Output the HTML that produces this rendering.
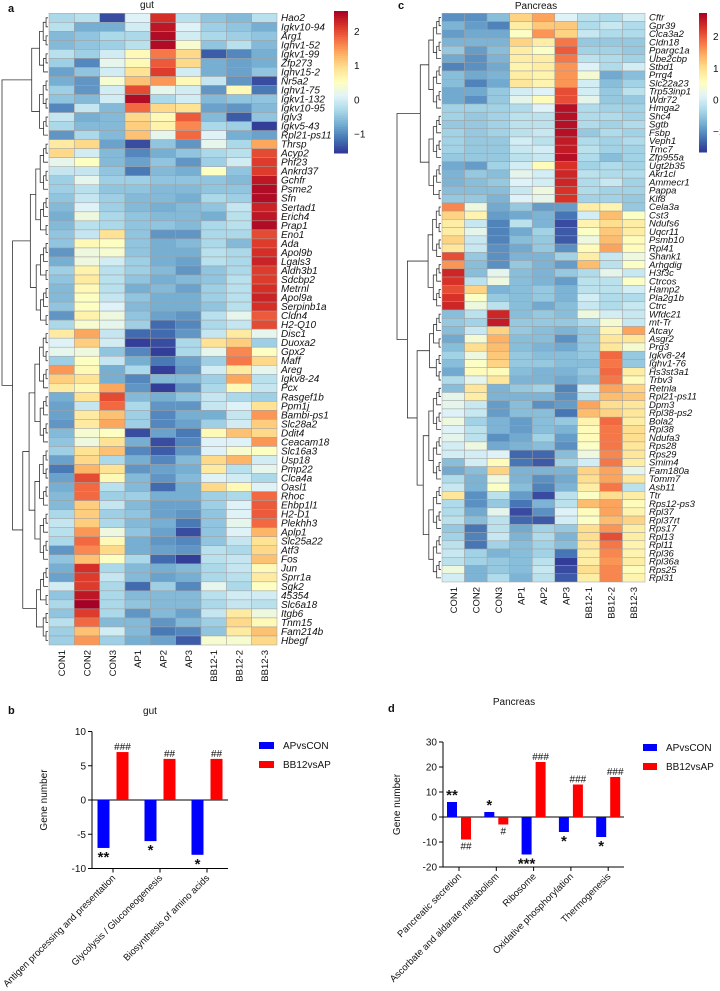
<!DOCTYPE html>
<html><head><meta charset="utf-8"><style>
html,body{margin:0;padding:0;background:#fff;}
svg{display:block;font-family:"Liberation Sans",Arial,sans-serif;}
</style></head><body>
<svg id="fig" width="720" height="991" viewBox="0 0 720 991"></svg>
<script>
const samples=["CON1","CON2","CON3","AP1","AP2","AP3","BB12-1","BB12-2","BB12-3"];
const gutGenes=["Hao2","Igkv10-94","Arg1","Ighv1-52","Igkv1-99","Zfp273","Ighv15-2","Nr5a2","Ighv1-75","Igkv1-132","Igkv10-95","Iglv3","Igkv5-43","Rpl21-ps11","Thrsp","Acyp2","Phf23","Ankrd37","Gchfr","Psme2","Sfn","Sertad1","Erich4","Prap1","Eno1","Ada","Apol9b","Lgals3","Aldh3b1","Sdcbp2","Metrnl","Apol9a","Serpinb1a","Cldn4","H2-Q10","Disc1","Duoxa2","Gpx2","Maff","Areg","Igkv8-24","Pcx","Rasgef1b","Ppm1j","Bambi-ps1","Slc28a2","Ddit4","Ceacam18","Slc16a3","Usp18","Pmp22","Clca4a","Oasl1","Rhoc","Ehbp1l1","H2-D1","Plekhh3","Aplp1","Slc25a22","Atf3","Fos","Jun","Sprr1a","Sgk2","45354","Slc6a18","Itgb6","Tnm15","Fam214b","Hbegf"];
const gutValues=[
[-0.3,-0.2,-1.4,0.1,2.2,-0.2,-0.5,-0.6,-0.2],[-0.2,-0.7,-0.7,0,2.4,0.1,-0.4,-0.5,-0.7],[-0.6,-0.5,-0.3,-0.3,2.5,0,-0.3,-0.4,-0.5],[-0.6,-0.5,-0.4,-0.2,2.5,0.4,-0.5,-0.2,-0.6],
[-0.2,-0.4,0,0.6,1.7,1.0,-1.3,-1.0,-0.7],[-0.4,-1.0,0.2,0.6,1.9,1.0,-0.7,-0.8,-0.7],[-0.8,-0.5,0,0.9,2.1,0,-0.7,-0.8,-0.5],[-0.7,-0.9,0.4,1.2,1.5,0.6,-0.1,-0.9,-1.4],
[-0.4,-0.9,0,2.0,0.2,0,-0.9,0.6,-1.1],[-0.5,-0.6,0,2.5,-0.3,0,-0.6,-0.5,-0.5],[-1.0,-0.1,-0.6,1.8,1.0,0.9,-0.8,-0.9,-0.6],[-0.1,-0.7,-0.6,1.0,0.6,1.9,-0.6,-1.3,-0.5],
[-0.3,-0.6,-0.6,1.1,0.7,1.6,-0.3,-0.4,-1.5],[-0.9,-0.3,-0.6,1.2,0.2,1.8,0.1,-0.7,-0.8],[0.8,1.0,-0.8,-1.4,-0.5,-0.9,0.2,-0.3,1.4],[1.0,0,-0.6,-1.0,-0.7,-0.5,-0.3,-0.2,2.0],
[0.2,0.5,-0.6,-0.8,-0.5,-0.9,-0.4,0,2.1],[-0.1,-0.1,-0.5,-1.1,-0.6,-0.7,0.5,-0.5,2.1],[-0.4,0.2,-0.4,-0.4,-0.5,-0.5,-0.5,-0.6,2.4],[-0.4,-0.2,-0.5,-0.5,-0.6,-0.6,-0.5,-0.5,2.5],
[-0.5,-0.1,-0.4,-0.6,-0.6,-0.7,-0.3,-0.4,2.5],[-0.6,0.1,-0.4,-0.6,-0.7,-0.6,-0.5,-0.1,2.3],[-0.7,0.3,-0.3,-0.5,-0.6,-0.6,-0.7,-0.2,2.4],[-0.6,-0.2,-0.3,-0.5,-0.5,-0.6,-0.3,-0.2,2.5],
[-0.5,-0.1,0.9,-0.5,-0.9,-0.9,-0.3,-0.3,2.0],[-0.5,0.6,0.5,-0.5,-0.7,-0.6,-0.3,-0.6,2.1],[-0.9,0.3,0.4,-0.5,-0.7,-0.7,-0.2,-0.3,2.2],[-0.7,0.3,0,-0.4,-0.7,-0.8,-0.2,-0.3,2.3],
[-0.4,0.7,-0.2,-0.4,-0.6,-0.9,-0.5,-0.3,2.1],[-0.5,0.8,-0.2,-0.5,-0.7,-0.6,-0.5,-0.2,2.1],[-0.6,0.6,-0.2,-0.7,-0.6,-0.8,-0.4,-0.2,2.2],[-0.6,0.5,-0.1,-0.5,-0.7,-0.7,-0.4,-0.2,2.3],
[-0.5,0.5,0.1,-0.6,-0.7,-0.7,-0.5,-0.2,2.2],[-0.9,0.7,0.3,-0.5,-0.8,-0.9,-0.2,0.2,1.9],[-0.3,0.4,0.2,-0.4,-1.2,-1.0,-0.3,-0.1,2.0],[0.8,1.4,-0.1,-1.2,-1.2,-0.9,-0.1,0.8,0.2],
[0.1,1.1,0,-1.5,-1.4,-0.3,0.9,1.1,-0.4],[0.2,0.3,-0.5,-1.0,-1.5,-0.3,0.2,1.6,0.5],[-0.4,0.5,-0.1,-0.7,-1.1,-0.8,-0.4,1.7,1.0],[1.5,0.6,-0.7,-0.3,-1.5,-0.9,0,0.8,0.2],
[1.1,0.9,-0.7,-1.0,-0.6,-0.6,-0.4,1.4,-0.2],[0.8,0.6,1.4,-0.9,-1.5,-0.9,-0.3,0.6,-0.1],[-0.7,0.9,2.0,-0.6,-0.7,-0.5,-0.1,-0.3,-0.4],[-0.8,-0.1,1.8,-0.3,-0.9,-0.9,-0.1,0.1,0.9],
[-0.8,0.8,1.2,-0.4,-1.0,-0.7,-0.7,-0.1,1.5],[-0.9,0.8,1.4,-0.4,-1.0,-0.8,-0.4,0,1.1],[-0.6,0.4,0.5,-1.4,-0.8,-1.1,0.6,1.2,1.0],[-0.5,0.3,0.9,-0.7,-1.4,-1.0,0.1,0.1,1.5],
[-0.4,0.9,1.2,-1.0,-1.3,-0.9,0.1,0.4,0.5],[-0.8,1.0,-0.3,-0.7,-1.0,-0.6,1.0,1.3,0],[-1.1,1.3,0.9,-0.9,-0.8,-0.7,0.8,-0.2,0.2],[-0.8,2.0,0.6,-0.6,-0.9,-0.6,0.1,0,-0.3],
[-0.7,1.8,-0.2,-0.6,-1.2,-0.7,1.0,0.6,0.1],[-0.6,1.8,-0.4,-0.4,-0.7,-0.7,-0.4,-0.3,1.8],[-0.6,1.1,-0.1,-0.6,-0.8,-0.8,-0.4,0.1,1.9],[-0.3,1.1,-0.4,-0.5,-0.8,-0.9,-0.5,0.1,1.9],
[-0.1,1.1,-0.3,-0.6,-0.7,-1.1,-0.5,0.2,1.8],[-0.2,1.5,0.3,-0.5,-0.8,-1.4,-0.5,0.1,1.3],[-0.3,1.8,0.6,-0.7,-0.9,-1.0,-0.5,-0.1,0.9],[-0.9,1.6,1.0,-0.7,-0.8,-0.9,-0.2,-0.3,1.0],
[-0.5,1.2,0.5,-0.3,-1.2,-1.5,-0.2,-0.1,1.2],[-0.7,2.2,-0.3,-0.6,-0.7,-0.6,-0.3,-0.1,0.6],[-0.8,2.1,-0.1,-0.6,-0.8,-0.7,-0.3,-0.2,0.8],[0,2.1,-0.3,-1.2,-0.4,-1.0,0.2,-0.3,0.5],
[-0.5,2.4,-0.3,-0.6,-0.6,-0.6,-0.2,0,0],[-0.3,2.6,-0.3,-0.5,-0.6,-0.6,-0.3,-0.1,-0.2],[-0.5,2.1,-0.3,-0.9,-0.6,-0.8,-0.1,0.8,0.3],[-0.2,1.8,-0.6,-0.6,-0.9,-0.6,-0.4,1.0,0.6],
[-0.4,1.2,0,-0.6,-1.1,-1.0,-0.5,0.8,1.2],[-0.4,1.5,-0.4,-0.7,-0.8,-1.3,0.4,0.4,1.0]];
const pancGenes=["Cftr","Gpr39","Clca3a2","Cldn18","Ppargc1a","Ube2cbp","Stbd1","Prrg4","Slc22a23","Trp53inp1","Wdr72","Hmga2","Shc4","Sgtb","Fsbp","Veph1","Tmc7","Zfp955a","Ugt2b35","Akr1cl","Ammecr1","Pappa","Klf8","Cela3a","Cst3","Ndufs6","Uqcr11","Psmb10","Rpl41","Shank1","Arhgdig","H3f3c","Ctrcos","Hamp2","Pla2g1b","Ctrc","Wfdc21","mt-Tr","Atcay","Asgr2","Prg3","Igkv8-24","Ighv1-76","Hs3st3a1","Trbv3","Retnla","Rpl21-ps11","Dpm3","Rpl38-ps2","Bola2","Rpl38","Ndufa3","Rps28","Rps29","Smim4","Fam180a","Tomm7","Asb11","Ttr","Rps12-ps3","Rpl37","Rpl37rt","Rps17","Rpl13","Rpl11","Rpl36","Rpl36a","Rps25","Rpl31"];
const pancValues=[
[-1.0,-1.0,-0.6,1.1,1.5,0.1,-0.2,-0.3,0],[-0.7,-0.9,-1.1,0.8,1.2,1.2,-0.3,-0.1,-0.3],[-0.9,-0.8,-0.8,0.5,1.6,1.1,-0.1,-0.3,-0.3],[-0.7,-0.7,-0.7,1.1,0.8,1.8,-0.5,-0.5,-0.5],
[-0.5,-0.9,-0.6,0.8,0.5,2.0,-0.4,-0.4,-0.5],[-0.8,-1.0,-0.7,0.8,0.8,1.8,-0.2,-0.3,-0.4],[-1.1,-1.0,-0.8,0.7,0.8,1.6,0.1,-0.3,0],[-0.6,-0.8,-0.7,0.8,0.7,1.6,0.4,-0.8,-0.6],
[-0.6,-1.1,-0.8,0.9,0.7,1.6,0,-0.6,-0.4],[-0.8,-0.8,-0.5,0,0.1,2.1,0,-0.5,-0.2],[-0.8,-1.0,-0.5,0.2,0.6,2.1,0.2,-0.5,-0.5],[-0.4,-0.4,-0.4,-0.3,0.1,2.6,-0.3,-0.4,-0.4],
[-0.4,-0.5,-0.4,-0.2,-0.2,2.6,-0.3,-0.3,-0.4],[-0.5,-0.5,-0.4,-0.2,-0.2,2.6,-0.3,-0.4,-0.3],[-0.4,-0.5,-0.4,-0.2,-0.1,2.6,-0.5,-0.3,-0.4],[-0.4,-0.5,-0.5,0,-0.2,2.5,-0.3,-0.4,-0.3],
[-0.4,-0.5,-0.5,-0.1,0,2.5,-0.2,-0.4,-0.4],[-0.5,-0.5,-0.5,-0.2,-0.1,2.6,-0.3,-0.6,-0.4],[-0.8,-0.9,-0.4,0,0.6,2.3,-0.4,-0.3,-0.4],[-0.7,-0.5,-0.6,0.2,0,2.4,-0.2,-0.3,-0.3],
[-0.7,-0.6,-0.5,0.1,0,2.4,-0.3,-0.1,-0.4],[-0.6,-0.6,-0.6,-0.1,0.3,2.3,-0.3,-0.4,-0.4],[-0.5,-0.5,-0.7,0.1,0.2,2.3,-0.4,-0.4,-0.5],[1.7,0.3,-0.8,-0.5,-0.9,-0.9,0.8,0.7,-0.5],
[1.1,0.7,-0.9,-0.8,-0.7,-1.2,0,1.3,0.5],[0.8,-0.1,-1.1,-0.2,-0.7,-1.5,0.7,1.0,0.8],[0.8,0.2,-1.1,-0.8,-0.4,-1.4,0.5,1.2,0.8],[1.1,-0.1,-1.1,-0.6,-0.5,-1.4,0.3,1.3,0.6],
[0.9,-0.1,-1.0,-0.8,-0.5,-1.0,0.6,1.5,0.6],[2.1,-0.5,-1.0,-0.7,-0.7,-0.4,0.8,-0.1,0.3],[1.6,-0.6,-1.0,-0.5,-0.7,-0.9,1.3,-0.2,0.5],[2.4,-0.6,0.2,-0.6,-0.7,-0.5,-0.3,0.2,-0.1],
[2.3,-0.2,0.3,-0.6,-0.7,-0.9,-0.2,-0.2,0.5],[2.1,1.1,-0.7,-0.6,-0.5,-0.7,-0.2,-0.2,0],[2.3,0.5,-0.5,-0.6,-0.5,-0.7,0,-0.3,-0.3],[2.4,0.3,-0.2,-0.6,-0.8,-0.6,-0.1,-0.3,-0.1],
[-0.6,-0.2,2.4,-0.6,-0.5,-0.6,0.3,0,-0.1],[-0.5,-0.4,2.5,-0.5,-0.5,-0.5,-0.3,0.4,-0.1],[-0.6,-0.1,1.1,-0.5,-0.6,-0.7,-0.5,0.7,1.5],[-0.8,0.4,1.4,-0.6,-0.6,-1.0,-0.5,0.9,0.9],
[-0.6,1.0,1.3,-0.6,-0.7,-0.8,-0.5,0.9,0.4],[-0.4,0.3,1.2,-0.5,-0.6,-0.6,-0.5,1.9,-0.5],[-0.6,0.5,1.1,-0.5,-0.5,-0.6,-0.6,1.8,-0.5],[-0.8,0.6,0.6,-0.6,-0.7,-0.7,-0.5,1.9,0.8],
[-0.3,0.2,0.9,-0.7,-0.7,-0.8,-0.6,1.8,0.6],[-0.6,0.9,-0.7,-0.5,-0.4,-1.1,0,1.5,1.1],[0.2,0.8,-0.7,-0.7,-0.7,-1.0,-0.2,1.3,1.2],[0.2,-0.1,-0.9,-0.6,-1.0,-0.9,1.5,1.0,0.9],
[0.1,-0.1,-0.9,-0.6,-0.6,-1.2,1.3,1.1,0.9],[0.3,-0.4,-0.7,-0.9,-0.6,-0.5,0.7,1.9,0.8],[0.1,-0.2,-0.7,-0.9,-0.6,-0.7,0.6,1.8,1.0],[0.2,-0.2,-1.0,-0.8,-0.4,-0.9,0.6,1.8,1.0],
[0,0.3,-0.8,-0.7,-0.6,-1.0,0.5,1.8,0.9],[0,0,0.1,-1.3,-1.3,-0.6,0.3,1.7,0.9],[-0.6,0,0.6,-1.2,-1.4,-0.4,0,1.8,0.8],[-0.8,-0.6,1.1,-0.7,-0.7,-0.7,1.1,1.5,0.2],
[-0.3,-0.7,0.3,-0.7,-1.0,-0.8,1.0,1.5,0.9],[-0.1,-0.7,0.5,-0.6,-1.1,-0.7,0.8,1.8,-0.2],[0.9,-1.0,-0.2,-0.9,-1.5,-0.2,0.5,1.0,0.8],[-0.3,-1.0,-0.5,-1.2,-0.7,-0.2,1.3,1.5,0.6],
[-0.3,-0.8,0.2,-1.5,-1.0,0.1,0.6,1.5,0.7],[-0.2,-0.6,-0.2,-1.3,-1.4,0,0.5,1.3,1.1],[-0.5,-1.2,-0.2,-0.8,-0.4,-0.5,1.0,1.6,0.8],[-0.4,-1.1,-0.1,-0.7,-0.3,-0.7,1.0,2.1,0.8],
[-0.2,-1.2,-0.4,-0.6,-0.4,-0.6,0.9,1.8,0.7],[-0.1,-0.4,-0.7,-0.6,-0.4,-1.2,0.8,1.7,0.7],[-0.2,-0.4,-0.5,-0.6,-0.2,-1.6,0.8,1.6,0.8],[0.3,-0.7,-0.5,-0.6,-0.1,-1.5,1.0,1.7,0.6],
[0,-0.7,-0.3,-0.7,-0.2,-1.4,0.8,1.7,0.7]];
const gutPathways=["Antigen processing and presentation","Glycolysis / Gluconeogenesis","Biosynthesis of amino acids"];
const gutAPvsCON=[-7,-6,-8];
const gutBB12vsAP=[7,6,6];
const gutBlueSig=["**","*","*"];
const gutRedSig=["###","##","##"];
const gutTicks=[10,5,0,-5,-10];
const pancPathways=["Pancreatic secretion","Ascorbate and aldarate metabolism","Ribosome","Oxidative phosphorylation","Thermogenesis"];
const pancAPvsCON=[6,2,-15,-6,-8];
const pancBB12vsAP=[-9,-3,22,13,16];
const pancBlueSig=["**","*","***","*","*"];
const pancRedSig=["##","#","###","###","###"];
const pancTicks=[30,20,10,0,-10,-20];

const NS="http://www.w3.org/2000/svg";
const svg=document.getElementById("fig");
function mk(tag,attrs,parent,text){const e=document.createElementNS(NS,tag);for(const k in attrs)e.setAttribute(k,attrs[k]);if(text!==undefined)e.textContent=text;(parent||svg).appendChild(e);return e;}
const pal=["#313695","#4575b4","#74add1","#abd9e9","#e0f3f8","#ffffbf","#fee090","#fdae61","#f46d43","#d73027","#a50026"];
function hex(h){return [1,3,5].map(i=>parseInt(h.substr(i,2),16));}
function colorFor(v,lo,hi){let t=(v-lo)/(hi-lo);t=Math.max(0,Math.min(1,t))*(pal.length-1);const i=Math.min(pal.length-2,Math.floor(t)),f=t-i;const a=hex(pal[i]),b=hex(pal[i+1]);return "rgb("+a.map((x,j)=>Math.round(x+(b[j]-x)*f)).join(",")+")";}

function dendro(g,n,x0,x1,y0,rh,splits){
  function build(lo,hi,depth){
    if(lo===hi)return {y:y0+(lo+0.5)*rh,h:0};
    let mid=Math.floor((lo+hi)/2);
    const s=splits.find(v=>v>lo&&v<=hi&&depth<4);
    if(s!==undefined)mid=s-1;
    const a=build(lo,mid,depth+1),b=build(mid+1,hi,depth+1);
    const h=Math.max(a.h,b.h)+Math.log2(hi-lo+2)*0.6+(depth<2?1.5:0);
    return {y:(a.y+b.y)/2,h:h,a:a,b:b};
  }
  const root=build(0,n-1,0);
  const sc=(x1-x0)/root.h;
  function draw(nd){if(!nd.a)return;const x=x1-nd.h*sc;
    mk("path",{d:"M"+(x1-nd.a.h*sc)+" "+nd.a.y+"H"+x+"V"+nd.b.y+"H"+(x1-nd.b.h*sc),fill:"none",stroke:"#333","stroke-width":"0.8"},g);
    draw(nd.a);draw(nd.b);}
  draw(root);
}

function heatmap(cfg){
  const g=mk("g",{});
  
  
  const cw=(cfg.x1-cfg.x0)/samples.length, rh=(cfg.y1-cfg.y0)/cfg.genes.length;
  cfg.values.forEach((row,r)=>row.forEach((v,c)=>{
    const cell=mk("rect",{x:cfg.x0+c*cw,y:cfg.y0+r*rh,width:cw,height:rh,fill:colorFor(v,cfg.lo,cfg.hi),stroke:"#a0a0a0","stroke-width":"0.5"},g);
    
    
  }));
  cfg.genes.forEach((gn,r)=>{
    const t=mk("text",{x:cfg.x1+4,y:cfg.y0+(r+0.5)*rh+rh*0.38,"font-size":cfg.fs,"font-style":"italic",fill:"#111"},g,gn);
    
    
  });
  samples.forEach((s,c)=>{
    const x=cfg.x0+(c+0.5)*cw+3.5,y=cfg.y1+5;
    const t=mk("text",{x:x,y:y,"font-size":"9.5","text-anchor":"end",transform:"rotate(-90 "+x+" "+y+")",fill:"#111"},g,s);
    
    
  });
  const dg=mk("g",{},g);
  
  
  dendro(dg,cfg.genes.length,cfg.dx0,cfg.x0-1,cfg.y0,rh,cfg.splits);
  // colorbar
  const cb=mk("g",{},g);
  
  
  const N=60;
  for(let i=0;i<N;i++){const v=cfg.hi-(cfg.hi-cfg.lo)*(i+0.5)/N;
    mk("rect",{x:cfg.cbx,y:cfg.cby0+i*(cfg.cby1-cfg.cby0)/N,width:cfg.cbw,height:(cfg.cby1-cfg.cby0)/N+0.5,fill:colorFor(v,cfg.lo,cfg.hi)},cb);}
  [2,1,0,-1].forEach(v=>{const y=cfg.cby0+(cfg.hi-v)/(cfg.hi-cfg.lo)*(cfg.cby1-cfg.cby0);
    mk("text",{x:cfg.cbx+cfg.cbw+6,y:y+3.5,"font-size":"10",fill:"#111"},cb,v===-1?"\u22121":String(v));});
}

heatmap({name:"gut-heatmap",genes:gutGenes,values:gutValues,x0:49,x1:277,y0:13.3,y1:645,lo:-1.55,hi:2.6,fs:"10",dx0:2,splits:[14,35,61],cbx:334,cbw:14,cby0:11,cby1:153});
heatmap({name:"pancreas-heatmap",genes:pancGenes,values:pancValues,x0:442,x1:645,y0:13.3,y1:582,lo:-1.65,hi:2.75,fs:"9.5",dx0:397,splits:[23,36,45],cbx:699,cbw:8,cby0:13,cby1:152});

function txt(x,y,s,attrs,name){const t=mk("text",Object.assign({x:x,y:y,fill:"#111"},attrs),svg,s);return t;}
txt(8,12,"a",{"font-size":"11","font-weight":"bold"},"panel-label-a");
txt(147,8,"gut",{"font-size":"10","text-anchor":"middle"},"gut-heatmap-title");
txt(398,9,"c",{"font-size":"11","font-weight":"bold"},"panel-label-c");
txt(536,9,"Pancreas",{"font-size":"10","text-anchor":"middle"},"pancreas-heatmap-title");
txt(8,714,"b",{"font-size":"11","font-weight":"bold"},"panel-label-b");
txt(150,714,"gut",{"font-size":"10","text-anchor":"middle"},"gut-bar-title");
txt(388,712,"d",{"font-size":"11","font-weight":"bold"},"panel-label-d");
txt(514,705,"Pancreas",{"font-size":"10","text-anchor":"middle"},"pancreas-bar-title");

function barChart(c){
  const g=mk("g",{});
  
  
  const y=v=>c.y0-v*c.k;
  const vmax=c.ticks[0],vmin=c.ticks[c.ticks.length-1];
  mk("line",{x1:c.ax,y1:y(vmax),x2:c.ax,y2:y(vmin),stroke:"#000","stroke-width":"1"},g);
  c.ticks.forEach(t=>{mk("line",{x1:c.ax-4,y1:y(t),x2:c.ax,y2:y(t),stroke:"#000"},g);
    mk("text",{x:c.ax-6,y:y(t)+3.5,"font-size":"10","text-anchor":"end",fill:"#111"},g,t<0?"-"+(-t):String(t));});
  mk("line",{x1:c.ax,y1:y(0),x2:c.axEnd,y2:y(0),stroke:"#000"},g);
  mk("line",{x1:c.ax,y1:y(vmin),x2:c.axEnd,y2:y(vmin),stroke:"#000"},g);
  const yt=mk("text",{x:c.ytx,y:(y(vmax)+y(vmin))/2,"font-size":"10","text-anchor":"middle",transform:"rotate(-90 "+c.ytx+" "+(y(vmax)+y(vmin))/2+")",fill:"#111"},g,"Gene number");
  
  
  c.cats.forEach((cat,i)=>{
    const cx=c.cx0+i*c.step;
    mk("line",{x1:cx,y1:y(vmin),x2:cx,y2:y(vmin)+4,stroke:"#000"},g);
    const lx=cx+3,ly=y(vmin)+10;
    const lt=mk("text",{x:lx,y:ly,"font-size":"9.5","text-anchor":"end",transform:"rotate(-45 "+lx+" "+ly+")",fill:"#111"},g,cat);
    
    
    [[c.blue[i],"#0000ff",-c.off,c.bsig[i]],[c.red[i],"#ff0000",c.off,c.rsig[i]]].forEach(([v,col,o,sig])=>{
      const bx=cx+o-c.bw/2;
      const b=mk("rect",{x:bx,y:Math.min(y(0),y(v)),width:c.bw,height:Math.abs(y(v)-y(0)),fill:col},g);
      
      
      const isStar=sig.indexOf("*")>=0;
      const sy=v>=0?y(v)-2:y(v)+(isStar?14:10);
      const st=mk("text",{x:cx+o,y:sy,"font-size":isStar?"15":"10","font-weight":isStar?"bold":"normal","text-anchor":"middle",fill:"#111"},g,sig);
      
      
    });
  });
  [["APvsCON","#0000ff"],["BB12vsAP","#ff0000"]].forEach(([lab,col],i)=>{
    const lg=mk("g",{},g);
    
    
    mk("rect",{x:c.lx,y:c.ly+i*19,width:c.lw,height:7,fill:col},lg);
    mk("text",{x:c.lx+c.lw+9,y:c.ly+i*19+7,"font-size":"10",fill:"#111"},lg,lab);
  });
}
barChart({name:"gut-bar-chart",cats:gutPathways,blue:gutAPvsCON,red:gutBB12vsAP,bsig:gutBlueSig,rsig:gutRedSig,ticks:gutTicks,ax:92,axEnd:228,y0:800,k:6.85,cx0:113,step:47,off:9.5,bw:12,ytx:47,lx:259,ly:742,lw:15});
barChart({name:"pancreas-bar-chart",cats:pancPathways,blue:pancAPvsCON,red:pancBB12vsAP,bsig:pancBlueSig,rsig:pancRedSig,ticks:pancTicks,ax:443,axEnd:624,y0:817,k:2.5,cx0:459,step:37.3,off:7,bw:10,ytx:400,lx:643,ly:744,lw:14});
</script>
</body></html>
